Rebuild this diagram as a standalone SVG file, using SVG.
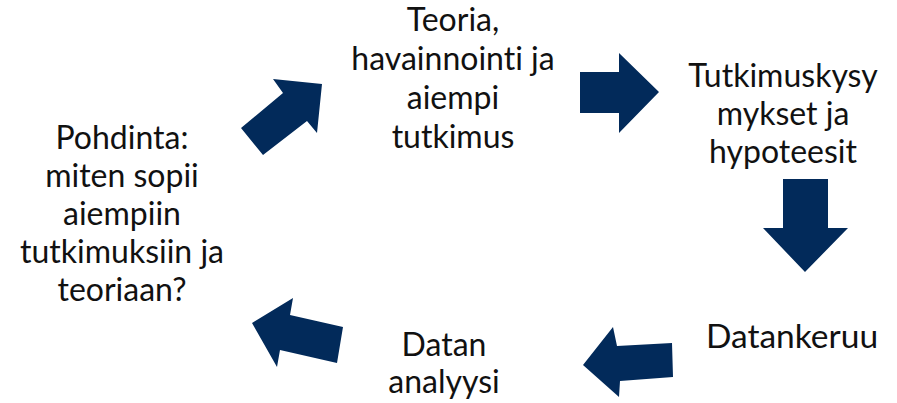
<svg xmlns="http://www.w3.org/2000/svg" width="897" height="403" viewBox="0 0 897 403">
<style>
.lbl{font-family:Lato,"Liberation Sans",sans-serif;font-size:32px;fill:#111;text-anchor:middle;font-variant-ligatures:none;font-feature-settings:"liga" 0}
.arr{fill:#022a5a}
</style>
<rect width="897" height="403" fill="#fff"/>
<g id="connectors">
<polygon class="arr" points="241,128 263,155 307,121 317,133 322,84 273,79 283,93"/>
<polygon class="arr" points="580,72 619,72 619,53 659,92 619,133 619,113 580,113"/>
<polygon class="arr" points="783,179 828,179 828,228 848,228 805,272 763,228 783,228"/>
<polygon class="arr" points="583,365 613,327 617,346 672,343 673,377 620,381 619,397"/>
<polygon class="arr" points="252,323 293,298 290,315 343,327 337,363 280,350 277,367"/>
</g>
<g id="node-teoria"><text class="lbl" x="453" y="31">Teoria,<tspan x="453" dy="39">havainnointi ja</tspan><tspan x="453" dy="39">aiempi</tspan><tspan x="453" dy="39">tutkimus</tspan></text></g>
<g id="node-tutkimuskysymykset"><text class="lbl" x="783" y="87">Tutkimuskysy<tspan x="783" dy="38">mykset ja</tspan><tspan x="783" dy="38">hypoteesit</tspan></text></g>
<g id="node-datankeruu"><text class="lbl" x="792" y="348" style="font-size:33.5px">Datankeruu</text></g>
<g id="node-analyysi"><text class="lbl" x="444" y="356">Datan<tspan x="444" dy="37">analyysi</tspan></text></g>
<g id="node-pohdinta"><text class="lbl" x="122" y="149">Pohdinta:<tspan x="122" dy="38">miten sopii</tspan><tspan x="122" dy="38">aiempiin</tspan><tspan x="122" dy="38">tutkimuksiin ja</tspan><tspan x="122" dy="38">teoriaan?</tspan></text></g>
</svg>
